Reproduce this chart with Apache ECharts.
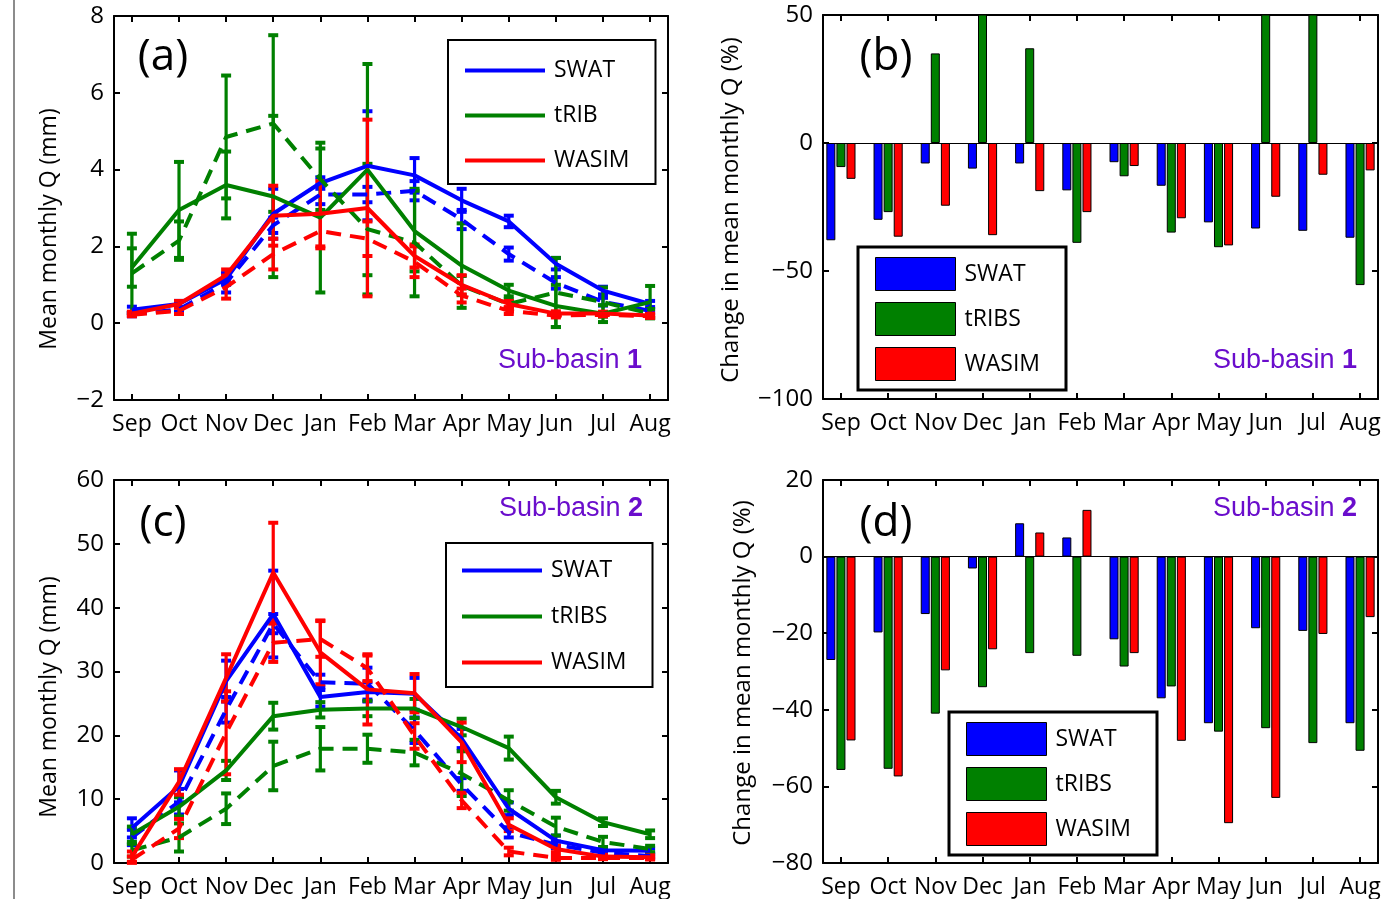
<!DOCTYPE html>
<html>
<head>
<meta charset="utf-8">
<script src="https://cdn.jsdelivr.net/npm/echarts@6/dist/echarts.min.js"></script>
<style>
html, body { margin: 0; padding: 0; background: #fff; }
#chart { width: 1397px; height: 899px; }
</style>
</head>
<body>
<div id="chart"></div>
<script>
const months = ["Sep", "Oct", "Nov", "Dec", "Jan", "Feb", "Mar", "Apr", "May", "Jun", "Jul", "Aug"];

// Sub-basin 1, mean monthly Q (mm): solid = baseline, dashed = future, err = half error bar
const swat1 = [0.35, 0.5, 1.15, 2.85, 3.65, 4.1, 3.85, 3.2, 2.65, 1.55, 0.85, 0.5];
const swat1Err = [0.08, 0.08, 0.15, 0.65, 0.15, 1.42, 0.45, 0.3, 0.15, 0.15, 0.1, 0.08];
const swat1Fut = [0.23, 0.36, 1.05, 2.55, 3.35, 3.35, 3.45, 2.7, 1.8, 1.05, 0.56, 0.32];
const swat1FutErr = [0.05, 0.06, 0.25, 0.2, 0.25, 0.2, 0.25, 0.25, 0.17, 0.15, 0.1, 0.05];
const trib1 = [1.45, 2.95, 3.6, 3.3, 2.75, 4.0, 2.4, 1.5, 0.85, 0.45, 0.25, 0.55];
const trib1Err = [0.5, 1.25, 0.87, 2.1, 1.95, 2.75, 1.05, 1.1, 0.15, 0.55, 0.22, 0.42];
const trib1Fut = [1.3, 2.15, 4.85, 5.2, 3.75, 2.45, 2.1, 0.98, 0.5, 0.8, 0.55, 0.25];
const trib1FutErr = [1.03, 0.5, 1.6, 2.3, 0.8, 1.7, 1.4, 0.25, 0.12, 0.9, 0.38, 0.12];
const wasim1 = [0.25, 0.5, 1.25, 2.8, 2.85, 3.0, 1.75, 1.0, 0.5, 0.25, 0.25, 0.2];
const wasim1Err = [0.05, 0.08, 0.15, 0.78, 0.85, 2.3, 0.3, 0.25, 0.08, 0.06, 0.05, 0.05];
const wasim1Fut = [0.22, 0.32, 0.94, 1.8, 2.4, 2.2, 1.6, 0.72, 0.32, 0.2, 0.22, 0.18];
const wasim1FutErr = [0.04, 0.08, 0.3, 0.4, 0.45, 0.45, 0.4, 0.18, 0.08, 0.05, 0.04, 0.04];

// Sub-basin 2
const swat2 = [5.5, 12, 28.5, 39, 26, 26.8, 26.5, 19.5, 8.5, 3.5, 2, 1.9];
const swat2Err = [1.5, 2.5, 3.2, 6.8, 1.5, 1.5, 2.5, 1.5, 1, 0.8, 0.5, 0.4];
const swat2Fut = [4.0, 9.6, 24, 37.5, 28.3, 28.1, 20.8, 12.3, 4.8, 2.85, 1.6, 1.1];
const swat2FutErr = [1.2, 2, 2, 1.5, 1.2, 2.5, 2, 1, 0.8, 0.5, 0.4, 0.3];
const trib2 = [4.5, 8.8, 14.5, 23, 24, 24.2, 24.2, 21.3, 18, 10.3, 6.4, 4.5];
const trib2Err = [1.2, 1.5, 1.5, 2.1, 1.2, 1.2, 1.5, 1.3, 1.8, 1, 0.6, 0.6];
const trib2Fut = [2.0, 4.0, 8.5, 15.2, 17.9, 17.9, 17.3, 14, 9.8, 5.7, 3.3, 2.2];
const trib2FutErr = [1.0, 2.2, 2.4, 3.8, 3.4, 2.2, 2, 3.5, 1.6, 1.4, 0.8, 0.5];
const wasim2 = [1, 12.7, 29, 45.5, 33, 27.2, 26.6, 18.9, 6, 2.2, 1, 0.9];
const wasim2Err = [0.8, 2, 3.7, 7.8, 5, 5.5, 3, 3.1, 1, 0.5, 0.3, 0.3];
const wasim2Fut = [0.52, 5.4, 20.4, 34.5, 35.1, 30.5, 19.9, 9.8, 1.8, 0.8, 0.8, 0.76];
const wasim2FutErr = [0.5, 1.5, 6.5, 3, 2.8, 2, 2, 1.2, 0.6, 0.3, 0.2, 0.2];

// Change in mean monthly Q (%)
const swatChg1 = [-38, -30, -8, -10, -8, -18.5, -7.5, -16.7, -31, -33.4, -34.3, -37];
const tribChg1 = [-9.4, -27, 35, 58, 37, -39, -13, -35, -40.7, 78, 120, -55.5];
const wasimChg1 = [-14, -36.6, -24.5, -36, -18.8, -27, -9, -29.4, -40, -21, -12.4, -10.7];
const swatChg2 = [-27, -19.8, -15, -3.1, 8.7, 5, -21.6, -37, -43.5, -18.7, -19.4, -43.5];
const tribChg2 = [-55.7, -55.4, -41, -34.1, -25.2, -25.9, -28.7, -33.9, -45.7, -44.8, -48.7, -50.7];
const wasimChg2 = [-48, -57.4, -29.7, -24.2, 6.3, 12.2, -25.2, -48.1, -69.6, -63, -20.2, -15.8];

const BLUE = "#0000ff", GREEN = "#008000", RED = "#ff0000", PURPLE = "#6a0dcc";
const FONT = "'Open Sans', 'Liberation Sans', sans-serif";
const ticks = months.map((m, i) => i + 1);

let chart = echarts.init(document.getElementById("chart"));

const grids = [
    { left: 114, top: 16, width: 554, height: 384 },
    { left: 823, top: 15, width: 555, height: 384 },
    { left: 114, top: 480, width: 554, height: 384 },
    { left: 823, top: 480, width: 555, height: 383 }
];
const yRange = [[-2, 8, 2], [-100, 50, 50], [0, 60, 10], [-80, 20, 20]];

const axisLine = { show: true, onZero: false, lineStyle: { color: "#000", width: 2 } };
const axisTick = { show: true, inside: true, length: 6, lineStyle: { color: "#000", width: 2 } };

let xAxes = [], yAxes = [];
grids.forEach((g, i) => {
    ["bottom", "top"].forEach(pos => {
        xAxes.push({
            gridIndex: i, type: "value", min: 0.62, max: 12.38, position: pos,
            axisLine: axisLine,
            axisTick: Object.assign({ customValues: ticks }, axisTick),
            axisLabel: {
                show: pos === "bottom", customValues: ticks, margin: 13,
                color: "#000", fontSize: 23, fontFamily: FONT,
                formatter: v => months[Math.round(v) - 1]
            },
            splitLine: { show: false }
        });
    });
    ["left", "right"].forEach(pos => {
        yAxes.push({
            gridIndex: i, type: "value", position: pos,
            min: yRange[i][0], max: yRange[i][1], interval: yRange[i][2],
            axisLine: axisLine, axisTick: axisTick,
            axisLabel: {
                show: pos === "left", margin: 10, color: "#000", fontSize: 24, fontFamily: FONT,
                formatter: v => String(v).replace("-", "\u2212")
            },
            splitLine: { show: false }
        });
    });
});

function errorBar(params, api) {
    const x = api.value(0);
    const lo = api.coord([x, api.value(1)]);
    const hi = api.coord([x, api.value(2)]);
    const c = api.visual("color");
    const w = 5;
    return {
        type: "group",
        children: [
            { type: "line", shape: { x1: lo[0], y1: lo[1], x2: hi[0], y2: hi[1] }, style: { stroke: c, lineWidth: 3.2 } },
            { type: "line", shape: { x1: lo[0] - w, y1: lo[1], x2: lo[0] + w, y2: lo[1] }, style: { stroke: c, lineWidth: 4 } },
            { type: "line", shape: { x1: hi[0] - w, y1: hi[1], x2: hi[0] + w, y2: hi[1] }, style: { stroke: c, lineWidth: 4 } }
        ]
    };
}

function model(g, name, color, mean, err, fut, futErr) {
    const ax = { xAxisIndex: 2 * g, yAxisIndex: 2 * g };
    const line = (id, vals, dashed) => Object.assign({
        type: "line", name: id, data: vals.map((v, i) => [i + 1, v]),
        symbol: "none", silent: true,
        lineStyle: { color: color, width: 4, type: dashed ? [15, 9] : "solid" },
        itemStyle: { color: color }
    }, ax);
    const bars = (vals, e) => Object.assign({
        type: "custom", name: "err", renderItem: errorBar, silent: true,
        itemStyle: { color: color },
        encode: { x: 0, y: [1, 2] },
        data: vals.map((v, i) => [i + 1, v - e[i], v + e[i]])
    }, ax);
    return [line(name, mean, false), bars(mean, err), line(name + " future", fut, true), bars(fut, futErr)];
}

function barSeries(g, name, color, vals, zero) {
    let s = {
        type: "bar", name: name, xAxisIndex: 2 * g, yAxisIndex: 2 * g,
        data: vals.map((v, i) => [i + 1, v]),
        barWidth: 9, barGap: "12%", silent: true,
        itemStyle: { color: color, borderColor: "#000", borderWidth: 1 }
    };
    if (zero) {
        s.markLine = {
            silent: true, symbol: "none", label: { show: false },
            lineStyle: { color: "#000", width: 1.2, type: "solid" },
            data: [{ yAxis: 0 }]
        };
    }
    return s;
}

let series = [].concat(
    model(0, "SWAT", BLUE, swat1, swat1Err, swat1Fut, swat1FutErr),
    model(0, "tRIB", GREEN, trib1, trib1Err, trib1Fut, trib1FutErr),
    model(0, "WASIM", RED, wasim1, wasim1Err, wasim1Fut, wasim1FutErr),
    model(2, "SWAT", BLUE, swat2, swat2Err, swat2Fut, swat2FutErr),
    model(2, "tRIBS", GREEN, trib2, trib2Err, trib2Fut, trib2FutErr),
    model(2, "WASIM", RED, wasim2, wasim2Err, wasim2Fut, wasim2FutErr),
    [
        barSeries(1, "SWAT", BLUE, swatChg1, true),
        barSeries(1, "tRIBS", GREEN, tribChg1),
        barSeries(1, "WASIM", RED, wasimChg1),
        barSeries(3, "SWAT", BLUE, swatChg2, true),
        barSeries(3, "tRIBS", GREEN, tribChg2),
        barSeries(3, "WASIM", RED, wasimChg2)
    ]
);

function legend(names, left, top, line, gap, pad) {
    return {
        data: names, left: left, top: top, orient: "vertical",
        icon: "rect", selectedMode: false,
        itemWidth: 80, itemHeight: line ? 4 : 33, itemGap: gap,
        padding: pad,
        backgroundColor: "#fff", borderColor: "#000", borderWidth: line ? 2 : 3,
        itemStyle: line ? { borderWidth: 0 } : { borderColor: "#000", borderWidth: 1 },
        textStyle: { color: "#000", fontSize: 23, fontFamily: FONT, padding: [0, 0, 0, 4] }
    };
}

function tag(text, x, y) {
    return { type: "text", x: x, y: y, z: 100, style: { text: text, font: "44px " + FONT, fill: "#000", align: "center", verticalAlign: "middle" } };
}
function yName(text, x, y, size) {
    return {
        type: "text", x: x, y: y, rotation: Math.PI / 2, z: 100,
        style: { text: text, font: size + "px " + FONT, fill: "#000", align: "center", verticalAlign: "middle" }
    };
}
function basin(n, x, y) {
    return {
        type: "text", x: x, y: y, z: 100,
        style: {
            text: "{a|Sub-basin }{b|" + n + "}", align: "right", verticalAlign: "middle",
            rich: {
                a: { font: "27px 'Liberation Sans', Arial, sans-serif", fill: PURPLE },
                b: { font: "bold 27px 'Liberation Sans', Arial, sans-serif", fill: PURPLE }
            }
        }
    };
}

chart.setOption({
    animation: false,
    backgroundColor: "#fff",
    grid: grids,
    xAxis: xAxes,
    yAxis: yAxes,
    legend: [
        legend(["SWAT", "tRIB", "WASIM"], 448, 40, true, 22, [19, 26, 12, 17]),
        legend(["SWAT", "tRIBS", "WASIM"], 858, 247, false, 11, [10, 26, 9, 17]),
        legend(["SWAT", "tRIBS", "WASIM"], 446, 543, true, 23, [16, 26, 13, 16]),
        legend(["SWAT", "tRIBS", "WASIM"], 949, 712, false, 11, [10, 26, 9, 17])
    ],
    graphic: [
        { type: "line", shape: { x1: 14, y1: 0, x2: 14, y2: 899 }, style: { stroke: "#8c8c8c", lineWidth: 2 } },
        yName("Mean monthly Q (mm)", 49, 229, 23),
        yName("Change in mean monthly Q (%)", 731, 210, 24),
        yName("Mean monthly Q (mm)", 49, 697, 23),
        yName("Change in mean monthly Q (%)", 743, 673, 24),
        tag("(a)", 163, 57), tag("(b)", 886, 57), tag("(c)", 163, 523), tag("(d)", 886, 523),
        basin(1, 642, 361), basin(1, 1357, 361), basin(2, 643, 509), basin(2, 1357, 509)
    ],
    series: series
});
</script>
</body>
</html>
